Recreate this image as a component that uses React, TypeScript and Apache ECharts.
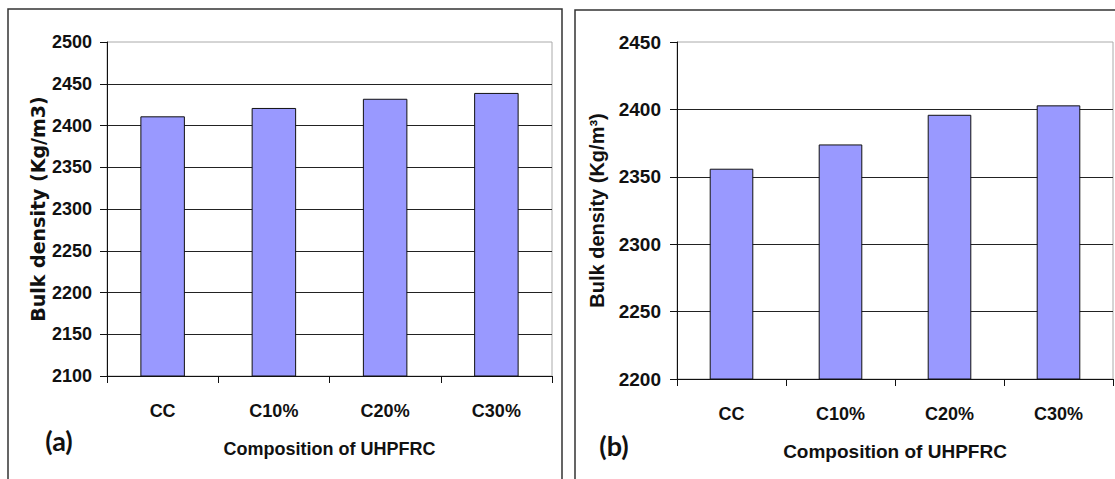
import React, { useEffect, useRef } from "react";
import * as echarts from "echarts";

const categories = ["CC", "C10%", "C20%", "C30%"];
const densityA = [2411, 2421, 2432, 2439];
const densityB = [2356, 2374, 2396, 2403];
const yRangeA = { min: 2100, max: 2500, interval: 50 };
const yRangeB = { min: 2200, max: 2450, interval: 50 };
const xTitle = "Composition of UHPFRC";
const yTitleA = "Bulk density (Kg/m3)";
const yTitleB = "Bulk density (Kg/m³)";
const panelLabels = ["(a)", "(b)"];

const FONT = "'Liberation Sans', Arial, sans-serif";

export default function App() {
  const ref = useRef<HTMLDivElement>(null);
  useEffect(() => {
    if (!ref.current) return;
    const chart = echarts.init(ref.current, null, { renderer: "svg" });
    const mkX = (gridIndex: number, size: number, margin: number, gap: number, titleSize: number) => ({
      type: "category",
      gridIndex,
      data: categories,
      boundaryGap: true,
      axisLine: { show: true, lineStyle: { color: "#111", width: 1 } },
      axisTick: { show: true, length: 7, alignWithLabel: false, lineStyle: { color: "#111" } },
      axisLabel: { color: "#111", fontFamily: FONT, fontWeight: "bold", fontSize: size, margin },
      name: xTitle,
      nameLocation: "middle",
      nameGap: gap,
      nameTextStyle: { color: "#111", fontFamily: FONT, fontWeight: "bold", fontSize: titleSize },
      splitLine: { show: false },
    });
    const mkY = (gridIndex: number, r: any, size: number, margin: number, name: string, nameSize: number, gap: number, nameFont: string) => ({
      type: "value",
      gridIndex,
      min: r.min,
      max: r.max,
      interval: r.interval,
      axisLine: { show: true, lineStyle: { color: "#111", width: 1 } },
      axisTick: { show: true, length: 7, lineStyle: { color: "#111" } },
      axisLabel: {
        color: "#111",
        fontFamily: FONT,
        fontWeight: "bold",
        fontSize: size,
        margin,
        formatter: (v: number) => String(v),
      },
      splitLine: { show: true, showMaxLine: false, lineStyle: { color: "#222", width: 1 } },
      name,
      nameLocation: "middle",
      nameGap: gap,
      nameRotate: 90,
      nameTextStyle: { color: "#111", fontFamily: nameFont, fontWeight: "bold", fontSize: nameSize },
    });
    chart.setOption({
      animation: false,
      backgroundColor: "#fff",
      grid: [
        { left: 107, top: 42, width: 445, height: 334, show: true, borderColor: "#aaa", borderWidth: 1, containLabel: false },
        { left: 677, top: 42, width: 436, height: 337, show: true, borderColor: "#aaa", borderWidth: 1, containLabel: false },
      ],
      xAxis: [mkX(0, 18, 26, 64, 18), mkX(1, 18, 26, 63, 19)],
      yAxis: [
        mkY(0, yRangeA, 18, 15, yTitleA, 19, 60, "'DejaVu Sans', sans-serif"),
        mkY(1, yRangeB, 19, 16, yTitleB, 20, 70, FONT),
      ],
      series: [
        {
          type: "bar",
          xAxisIndex: 0,
          yAxisIndex: 0,
          data: densityA,
          barWidth: "40%",
          itemStyle: { color: "#9999FF", borderColor: "#111", borderWidth: 1 },
        },
        {
          type: "bar",
          xAxisIndex: 1,
          yAxisIndex: 1,
          data: densityB,
          barWidth: "40%",
          itemStyle: { color: "#9999FF", borderColor: "#111", borderWidth: 1 },
        },
      ],
      graphic: [
        { type: "rect", shape: { x: 8, y: 9, width: 554, height: 490 }, style: { fill: "none", stroke: "#333", lineWidth: 1.5 }, silent: true, z: -1 },
        { type: "rect", shape: { x: 575, y: 10, width: 600, height: 490 }, style: { fill: "none", stroke: "#333", lineWidth: 1.5 }, silent: true, z: -1 },
        { type: "text", x: 59, y: 440, style: { text: panelLabels[0], fill: "#111", font: "bold 27px Lato, 'Open Sans', sans-serif", align: "center", verticalAlign: "middle" } },
        { type: "text", x: 614, y: 445, style: { text: panelLabels[1], fill: "#111", font: "bold 27px Lato, 'Open Sans', sans-serif", align: "center", verticalAlign: "middle" } },
      ],
    });
    return () => chart.dispose();
  }, []);
  return <div ref={ref} style={{ position: "absolute", left: 0, top: 0, width: 1115, height: 479 }} />;
}
